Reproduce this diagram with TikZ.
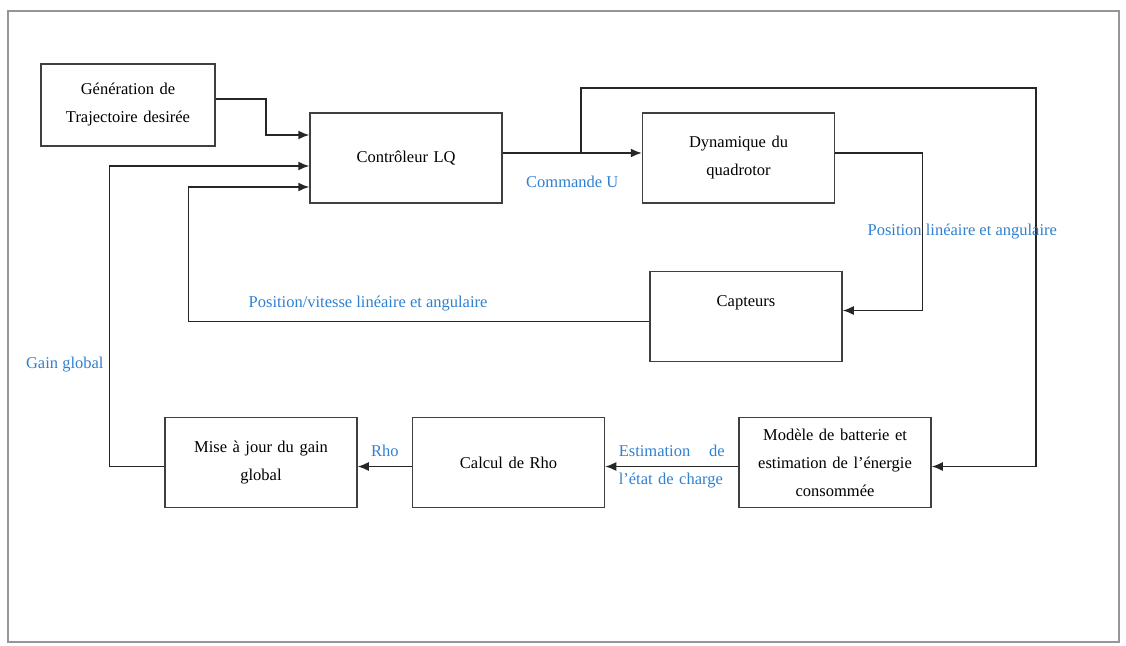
\documentclass[tikz,border=0pt]{standalone}
\usepackage{fontspec}
\setmainfont{Liberation Serif}
\usepackage{tikz}
\usetikzlibrary{arrows.meta,calc}
\usetikzlibrary{positioning}
\definecolor{labelblue}{RGB}{48,128,208}
\definecolor{framegray}{RGB}{150,150,150}
\tikzstyle{line}=[-, line width=1.5pt, draw=black!85]
\tikzstyle{flow}=[line, -{Latex[length=11pt,width=9pt]}]
\tikzstyle{block}=[rectangle, draw=black!75, line width=1.5pt, fill=white,
		minimum width=192pt, minimum height=90pt, text width=175pt,
		align=center, inner sep=2pt]
\tikzstyle{sig}=[text=labelblue, inner sep=2pt]

\begin{document}
\begin{tikzpicture}[x=1pt,y=1pt,font=\fontsize{16.5}{28}\selectfont]

    \useasboundingbox (0,0) rectangle (1126,-645);
    \draw[framegray, line width=2pt] (8,-11) rectangle (1119,-642);

    \node (Gen) at (128,-105) [block, minimum width=174pt, minimum height=82pt,
            text width=160pt] {G\'en\'eration de\\Trajectoire desir\'ee};
    \node (Ctrl) at (406,-158) [block] {Contr\^oleur LQ};
    \node (Dyn) [block, right=139pt of Ctrl] {Dynamique du\\quadrotor};
    \node (Capt) at (746,-316.5) [block, text depth=31pt] {Capteurs};

    \node (Maj) at (261,-462.5) [block] {Mise \`a jour du gain\\global};
    \node (Calc) [block, right=54pt of Maj] {Calcul de Rho};
    \node (Batt) [block, right=133pt of Calc] {Mod\`ele de batterie et\\
        estimation de l’\'energie\\consomm\'ee};

    \coordinate (Split) at ($([yshift=5pt]Ctrl.east)+(78,0)$);
    \coordinate (Loop) at (1036,-88);

    \draw[flow] ([yshift=6pt]Gen.east) -- ++(50,0) |- ([yshift=23pt]Ctrl.west);
    \draw[flow] ([yshift=5pt]Ctrl.east) -- ([yshift=5pt]Dyn.west)
        node[sig, midway, below=20pt] {Commande U};
    \draw[flow] (Split) |- (Loop) |- ([yshift=-4pt]Batt.east);
    \draw[flow] ([yshift=5pt]Dyn.east) -- ++(87,0) |- ([yshift=6pt]Capt.east)
        node[sig, pos=0.25, xshift=40pt] {Position lin\'eaire et angulaire};
    \draw[flow] ([yshift=-5pt]Capt.west) -- ++(-461,0)
        node[sig, pos=0.61, above=8pt] {Position/vitesse lin\'eaire et angulaire}
        |- ([yshift=-29pt]Ctrl.west);
    \draw[flow] ([yshift=-4pt]Batt.west) -- ([yshift=-4pt]Calc.east)
        node[sig, midway, text width=106pt, align=left]
        {Estimation\hfill de\\l’\'etat de charge};
    \draw[flow] ([yshift=-4pt]Calc.west) -- ([yshift=-4pt]Maj.east)
        node[sig, midway, above=7pt] {Rho};
    \draw[flow] ([yshift=-4pt]Maj.west) -- ++(-55,0) |- ([yshift=-8pt]Ctrl.west)
        node[sig, pos=0.17, left=3pt] {Gain global};

  \end{tikzpicture}
\end{document}
